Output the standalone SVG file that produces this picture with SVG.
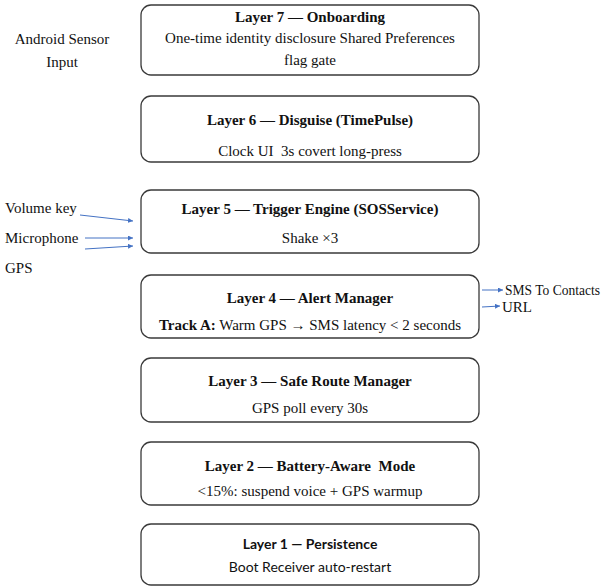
<svg xmlns="http://www.w3.org/2000/svg" width="610" height="586" viewBox="0 0 610 586">
<defs>
<marker id="ah" viewBox="0 0 10 10" refX="10" refY="5" markerWidth="5" markerHeight="5" orient="auto" markerUnits="userSpaceOnUse"><path d="M0,0 L10,5 L0,10 z" fill="#4472C4"/></marker>
<style>
.box{fill:#fff;stroke:#3a3a3a;stroke-width:1.3}
.t{font-family:"Liberation Serif","Times New Roman",serif;font-size:15px;fill:#111;text-anchor:middle}
.b{font-weight:bold}
.l{font-family:"Liberation Serif","Times New Roman",serif;font-size:15px;fill:#111}
.s{font-family:Lato,"Liberation Sans",sans-serif;font-size:14px;fill:#111;text-anchor:middle}
.c{stroke:#4472C4;stroke-width:1;fill:none;marker-end:url(#ah)}
</style>
</defs>
<rect width="610" height="586" fill="#fff"/>
<g id="label-android">
<text class="t" x="62" y="44">Android Sensor</text>
<text class="t" x="62" y="67">Input</text>
</g>
<g id="layer7">
<rect class="box" x="141" y="5" width="338" height="70" rx="10"/>
<text class="t b" x="310" y="22">Layer 7 — Onboarding</text>
<text class="t" x="310" y="43">One-time identity disclosure Shared Preferences</text>
<text class="t" x="310" y="65">flag gate</text>
</g>
<g id="layer6">
<rect class="box" x="141" y="96" width="338" height="66" rx="10"/>
<text class="t b" x="310" y="125">Layer 6 — Disguise (TimePulse)</text>
<text class="t" x="310" y="156">Clock UI&#160; 3s covert long-press</text>
</g>
<g id="layer5">
<rect class="box" x="141" y="190" width="338" height="63" rx="10"/>
<text class="t b" x="310" y="214">Layer 5 — Trigger Engine (SOSService)</text>
<text class="t" x="310" y="243">Shake ×3</text>
</g>
<g id="inputs">
<text class="l" x="5" y="213">Volume key</text>
<text class="l" x="5" y="243">Microphone</text>
<text class="l" x="5" y="273">GPS</text>
</g>
<g id="layer4">
<rect class="box" x="141" y="275" width="338" height="63" rx="10"/>
<text class="t b" x="310" y="303">Layer 4 — Alert Manager</text>
<text class="t" x="310" y="330"><tspan font-weight="bold">Track A:</tspan> Warm GPS → SMS latency &lt; 2 seconds</text>
</g>
<g id="outputs">
<text class="l" x="505" y="295" font-size="13" textLength="95" lengthAdjust="spacingAndGlyphs">SMS To Contacts</text>
<text class="l" x="502" y="312">URL</text>
</g>
<g id="layer3">
<rect class="box" x="141" y="358" width="338" height="64" rx="10"/>
<text class="t b" x="310" y="386">Layer 3 — Safe Route Manager</text>
<text class="t" x="310" y="413">GPS poll every 30s</text>
</g>
<g id="layer2">
<rect class="box" x="141" y="442" width="338" height="63" rx="10"/>
<text class="t b" x="310" y="471">Layer 2 — Battery-Aware&#160; Mode</text>
<text class="t" x="310" y="496">&lt;15%: suspend voice + GPS warmup</text>
</g>
<g id="layer1">
<rect class="box" x="141" y="524" width="338" height="61" rx="10"/>
<text class="s b" x="310" y="549">Layer 1 — Persistence</text>
<text class="s" x="310" y="572">Boot Receiver auto-restart</text>
</g>
<g id="connectors">
<path class="c" d="M482,290 L503,290"/>
<path class="c" d="M482,307 L500,306"/>
<path class="c" d="M80,215 L133,221"/>
<path class="c" d="M85,238 L133,238"/>
<path class="c" d="M85,249 L133,246"/>
</g>
</svg>
